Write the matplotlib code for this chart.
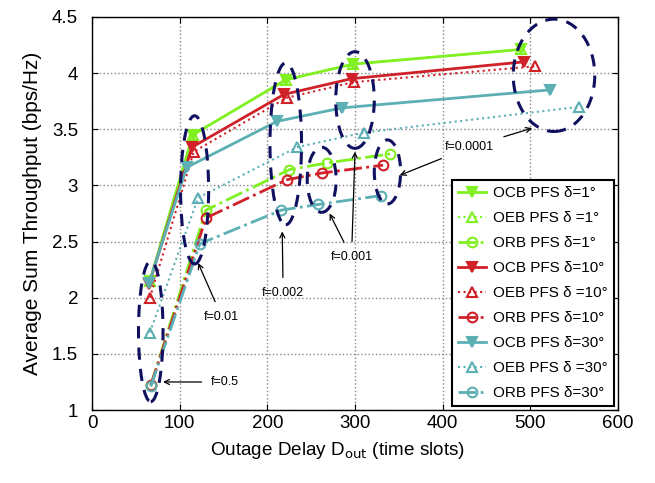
import matplotlib
matplotlib.use("Agg")
import matplotlib.pyplot as plt
from matplotlib.patches import Ellipse

plt.rcParams['font.family'] = ['Liberation Sans', 'DejaVu Sans']

# Data (Outage delay, throughput)
ocb1_x = [66, 115, 221, 298, 489]
ocb1_y = [2.15, 3.45, 3.94, 4.08, 4.21]
oeb1_x = [66, 115, 221, 298, 489]
oeb1_y = [2.15, 3.45, 3.94, 4.08, 4.21]
orb1_x = [67, 130, 225, 268, 340]
orb1_y = [1.22, 2.78, 3.14, 3.20, 3.28]

ocb10_x = [65, 114, 219, 296, 493]
ocb10_y = [2.12, 3.34, 3.81, 3.95, 4.10]
oeb10_x = [66, 116, 222, 299, 505]
oeb10_y = [2.00, 3.30, 3.78, 3.92, 4.06]
orb10_x = [67, 130, 222, 262, 332]
orb10_y = [1.22, 2.71, 3.05, 3.11, 3.18]

ocb30_x = [65, 108, 211, 285, 522]
ocb30_y = [2.13, 3.16, 3.57, 3.69, 3.85]
oeb30_x = [66, 121, 234, 310, 556]
oeb30_y = [1.69, 2.89, 3.34, 3.47, 3.70]
orb30_x = [67, 123, 216, 258, 330]
orb30_y = [1.21, 2.48, 2.78, 2.83, 2.91]

labels = ["OCB PFS \u03b4=1\u00b0", "OEB PFS \u03b4 =1\u00b0", "ORB PFS \u03b4=1\u00b0",
          "OCB PFS \u03b4=10\u00b0", "OEB PFS \u03b4 =10\u00b0", "ORB PFS \u03b4=10\u00b0",
          "OCB PFS \u03b4=30\u00b0", "OEB PFS \u03b4 =30\u00b0", "ORB PFS \u03b4=30\u00b0"]

green = '#80f020'
red = '#d02028'
cyan = '#5cb0b4'

fig = plt.figure(figsize=(6.55, 4.83), dpi=100)
ax = fig.add_axes([0.1405, 0.151, 0.803, 0.814])

series = [
    (ocb1_x, ocb1_y, green, '-', 'v', True),
    (oeb1_x, oeb1_y, green, ':', '^', False),
    (orb1_x, orb1_y, green, '-.', 'o', False),
    (ocb10_x, ocb10_y, red, '-', 'v', True),
    (oeb10_x, oeb10_y, red, ':', '^', False),
    (orb10_x, orb10_y, red, '-.', 'o', False),
    (ocb30_x, ocb30_y, cyan, '-', 'v', True),
    (oeb30_x, oeb30_y, cyan, ':', '^', False),
    (orb30_x, orb30_y, cyan, '-.', 'o', False),
]
for (x, y, c, ls, m, filled), lab in zip(series, labels):
    ax.plot(x, y, color=c, linestyle=ls, marker=m, markersize=7,
            markerfacecolor=c if filled else 'none', markeredgecolor=c,
            markeredgewidth=1.5, linewidth=2 if ls != ':' else 1.5, label=lab)

# ellipses (center x, center y, width, height)
ell_cx = [67, 117, 221, 262, 300, 337, 527]
ell_cy = [1.70, 2.96, 3.37, 3.05, 3.76, 3.12, 3.98]
ell_w = [28, 32, 36, 33, 44, 30, 93]
ell_h = [1.25, 1.32, 1.44, 0.58, 0.86, 0.57, 1.0]
for cx, cy, w, h in zip(ell_cx, ell_cy, ell_w, ell_h):
    ax.add_patch(Ellipse((cx, cy), w, h, fill=False, edgecolor='#101060',
                         linestyle=(0, (4, 3)), linewidth=2.2, zorder=5))

ann_kw = dict(fontsize=9, ha='center', va='center',
              arrowprops=dict(arrowstyle='->', color='black', lw=0.9, shrinkA=5, shrinkB=0))
ax.annotate('f=0.5', xy=(81, 1.25), xytext=(152, 1.25), **ann_kw)
ax.annotate('f=0.01', xy=(121, 2.31), xytext=(148, 1.83), **ann_kw)
ax.annotate('f=0.002', xy=(217, 2.59), xytext=(218, 2.04), **ann_kw)
ax.annotate('f=0.001', xy=(300, 3.30), xytext=(296, 2.36), **ann_kw)
ax.annotate('f=0.001', xy=(271, 2.75), xytext=(296, 2.36), color='none', **ann_kw)
ax.annotate('f=0.0001', xy=(502, 3.51), xytext=(431, 3.34), **ann_kw)
ax.annotate('f=0.0001', xy=(351, 3.09), xytext=(431, 3.34), color='none', **ann_kw)

ax.set_xlim(0, 600)
ax.set_ylim(1, 4.5)
ax.set_xticks([0, 100, 200, 300, 400, 500, 600])
ax.set_yticks([1, 1.5, 2, 2.5, 3, 3.5, 4, 4.5])
ax.set_yticklabels(['1', '1.5', '2', '2.5', '3', '3.5', '4', '4.5'])
ax.tick_params(labelsize=13.5, direction='in', length=4, top=True, right=True)
ax.tick_params(axis='y', pad=10)
ax.grid(True, linestyle=':', color='#888888', linewidth=1)
ax.set_xlabel('Outage Delay D$_{\\mathrm{out}}$ (time slots)', fontsize=13.6)
ax.xaxis.set_label_coords(0.466, -0.075)
ax.set_ylabel('Average Sum Throughput (bps/Hz)', fontsize=15, labelpad=7)
for s in ax.spines.values():
    s.set_linewidth(1)

leg = ax.legend(loc='lower right', fontsize=11, frameon=True, fancybox=False,
                edgecolor='black', framealpha=1, borderaxespad=0.25,
                handlelength=1.8, labelspacing=0.72, handletextpad=0.5)
leg.get_frame().set_linewidth(1.5)

fig.savefig('out.png', dpi=100)
